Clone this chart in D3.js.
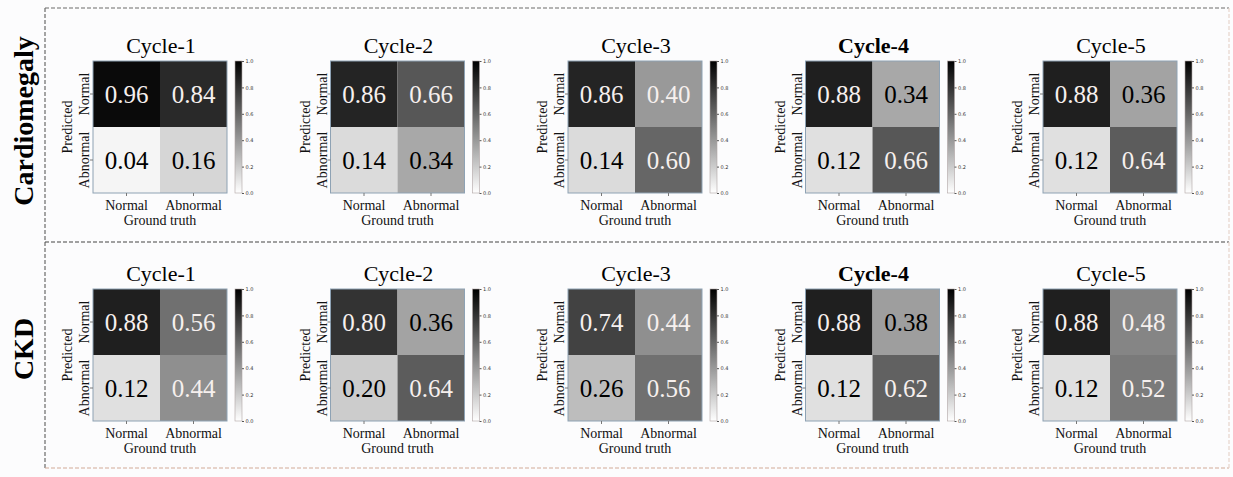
<!DOCTYPE html>
<html>
<head>
<meta charset="utf-8">
<script src="https://cdn.jsdelivr.net/npm/d3@7"></script>
<style>
  body { margin: 0; background: #fcfcfd; }
  svg { display: block; }
</style>
</head>
<body>
<div id="chart"></div>
<script>
// values
const cycles = ["Cycle-1", "Cycle-2", "Cycle-3", "Cycle-4", "Cycle-5"];
const boldCycle = "Cycle-4";
const diseases = ["Cardiomegaly", "CKD"];
const classes = ["Normal", "Abnormal"];
// rows = predicted, cols = ground truth
const cardiomegaly = [
    [[0.96, 0.84], [0.04, 0.16]],
    [[0.86, 0.66], [0.14, 0.34]],
    [[0.86, 0.40], [0.14, 0.60]],
    [[0.88, 0.34], [0.12, 0.66]],
    [[0.88, 0.36], [0.12, 0.64]]
];
const ckd = [
    [[0.88, 0.56], [0.12, 0.44]],
    [[0.80, 0.36], [0.20, 0.64]],
    [[0.74, 0.44], [0.26, 0.56]],
    [[0.88, 0.38], [0.12, 0.62]],
    [[0.88, 0.48], [0.12, 0.52]]
];
const cbTicks = [0, 0.2, 0.4, 0.6, 0.8, 1.0];
const matrices = [cardiomegaly, ckd];

const SERIF = "'Liberation Serif', 'DejaVu Serif', serif";
const SANS = "'DejaVu Sans', sans-serif";

const W = 1233, H = 477;
const svg = d3.select("#chart").append("svg")
    .attr("width", W)
    .attr("height", H);

svg.append("rect").attr("width", W).attr("height", H).attr("fill", "#fcfcfd");

// dashed frame
const frame = {left: 45, right: 1229, top: 8, bottom: 468, mid: 242};
function dash(x1, y1, x2, y2, color) {
    svg.append("line")
        .attr("x1", x1).attr("y1", y1).attr("x2", x2).attr("y2", y2)
        .attr("stroke", color)
        .attr("stroke-width", 1.2)
        .attr("stroke-dasharray", "4,2");
}
dash(frame.left, frame.top, frame.right, frame.top, "#6a6a6a");
dash(frame.left, frame.top, frame.left, frame.bottom, "#6a6a6a");
dash(frame.left, frame.mid, frame.right, frame.mid, "#444");
dash(frame.left, frame.bottom, frame.right, frame.bottom, "#d2aa98");
dash(frame.right, frame.top, frame.right, frame.bottom, "#e6d4cc");

const color = d3.scaleLinear().domain([0, 1]).range(["#ffffff", "#000000"]);

const size = {w: 134, h: 132};
const x0 = 93, dx = 237.5, y0 = 61, dy = 228;

// gradient for colorbars
const grad = svg.append("defs").append("linearGradient")
    .attr("id", "cbgrad")
    .attr("x1", 0).attr("y1", 1).attr("x2", 0).attr("y2", 0);
grad.selectAll("stop")
    .data(cbTicks)
    .join("stop")
    .attr("offset", d => d)
    .attr("stop-color", d => color(d));

diseases.forEach((disease, r) => {
    svg.append("text")
        .attr("transform", `translate(33,${y0 + r * dy + 60}) rotate(-90)`)
        .attr("text-anchor", "middle")
        .style("font-family", SERIF)
        .style("font-size", "28px")
        .style("font-weight", "bold")
        .attr("fill", "#000")
        .text(disease);

    cycles.forEach((cycle, c) => {
        const data = matrices[r][c];
        const g = svg.append("g")
            .attr("transform", `translate(${x0 + c * dx},${y0 + r * dy})`);

        const xs = d3.scaleBand().domain(classes).range([0, size.w]);
        const ys = d3.scaleBand().domain(classes).range([0, size.h]);

        const cells = [];
        classes.forEach((p, i) => classes.forEach((t, j) => {
            cells.push({pred: p, truth: t, v: data[i][j]});
        }));

        g.selectAll("rect.cell")
            .data(cells)
            .join("rect")
            .attr("class", "cell")
            .attr("x", d => xs(d.truth))
            .attr("y", d => ys(d.pred))
            .attr("width", xs.bandwidth())
            .attr("height", ys.bandwidth())
            .attr("fill", d => color(d.v));

        g.selectAll("text.val")
            .data(cells)
            .join("text")
            .attr("class", "val")
            .attr("x", d => xs(d.truth) + xs.bandwidth() / 2)
            .attr("y", d => ys(d.pred) + ys.bandwidth() / 2 + 8.5)
            .attr("text-anchor", "middle")
            .style("font-family", SERIF)
            .style("font-size", "25px")
            .attr("fill", d => d.v >= 0.39 ? "#f6f0ee" : "#000")
            .text(d => d.v.toFixed(2));

        // spines
        g.append("rect")
            .attr("width", size.w).attr("height", size.h)
            .attr("fill", "none")
            .attr("stroke", "#8ea2b4")
            .attr("stroke-width", 1);

        const xAxis = d3.axisBottom(xs).tickSize(3).tickPadding(4);
        const yAxis = d3.axisLeft(ys).tickSize(3).tickPadding(1);

        const gx = g.append("g")
            .attr("transform", `translate(0,${size.h})`)
            .call(xAxis);
        gx.select(".domain").remove();
        gx.selectAll("line").attr("stroke", "#777");
        gx.selectAll("text")
            .style("font-family", SERIF)
            .style("font-size", "14px")
            .attr("fill", "#111");

        const gy = g.append("g")
            .call(yAxis);
        gy.select(".domain").remove();
        gy.selectAll("line").attr("stroke", "#777");
        gy.selectAll("text")
            .style("font-family", SERIF)
            .style("font-size", "14px")
            .attr("fill", "#111")
            .attr("text-anchor", "middle")
            .attr("dy", 0)
            .attr("x", 0)
            .attr("transform", "translate(-4,0) rotate(-90)");

        g.append("text")
            .attr("x", size.w / 2)
            .attr("y", size.h + 32)
            .attr("text-anchor", "middle")
            .style("font-family", SERIF)
            .style("font-size", "14px")
            .attr("fill", "#111")
            .text("Ground truth");

        g.append("text")
            .attr("transform", `translate(-21,${size.h / 2}) rotate(-90)`)
            .attr("text-anchor", "middle")
            .style("font-family", SERIF)
            .style("font-size", "14px")
            .attr("fill", "#111")
            .text("Predicted");

        g.append("text")
            .attr("x", size.w / 2 + 1)
            .attr("y", -8)
            .attr("text-anchor", "middle")
            .style("font-family", SERIF)
            .style("font-size", "22px")
            .style("font-weight", cycle === boldCycle ? "bold" : "normal")
            .attr("fill", "#000")
            .text(cycle);

        // colorbar
        const cb = g.append("g")
            .attr("transform", `translate(${size.w + 8},0)`);
        cb.append("rect")
            .attr("width", 7).attr("height", size.h)
            .attr("fill", "url(#cbgrad)")
            .attr("stroke", "#b0a4a4")
            .attr("stroke-width", 0.6);
        const cs = d3.scaleLinear().domain([0, 1]).range([size.h, 0]);
        const cbAxis = cb.append("g")
            .attr("transform", "translate(7,0)")
            .call(d3.axisRight(cs).tickValues(cbTicks).tickFormat(d3.format(".1f")).tickSize(2).tickPadding(1.5));
        cbAxis.select(".domain").remove();
        cbAxis.selectAll("line").attr("stroke", "#555");
        cbAxis.selectAll("text")
            .style("font-family", SANS)
            .style("font-size", "5px")
            .attr("fill", "#333");
    });
});
</script>
</body>
</html>
